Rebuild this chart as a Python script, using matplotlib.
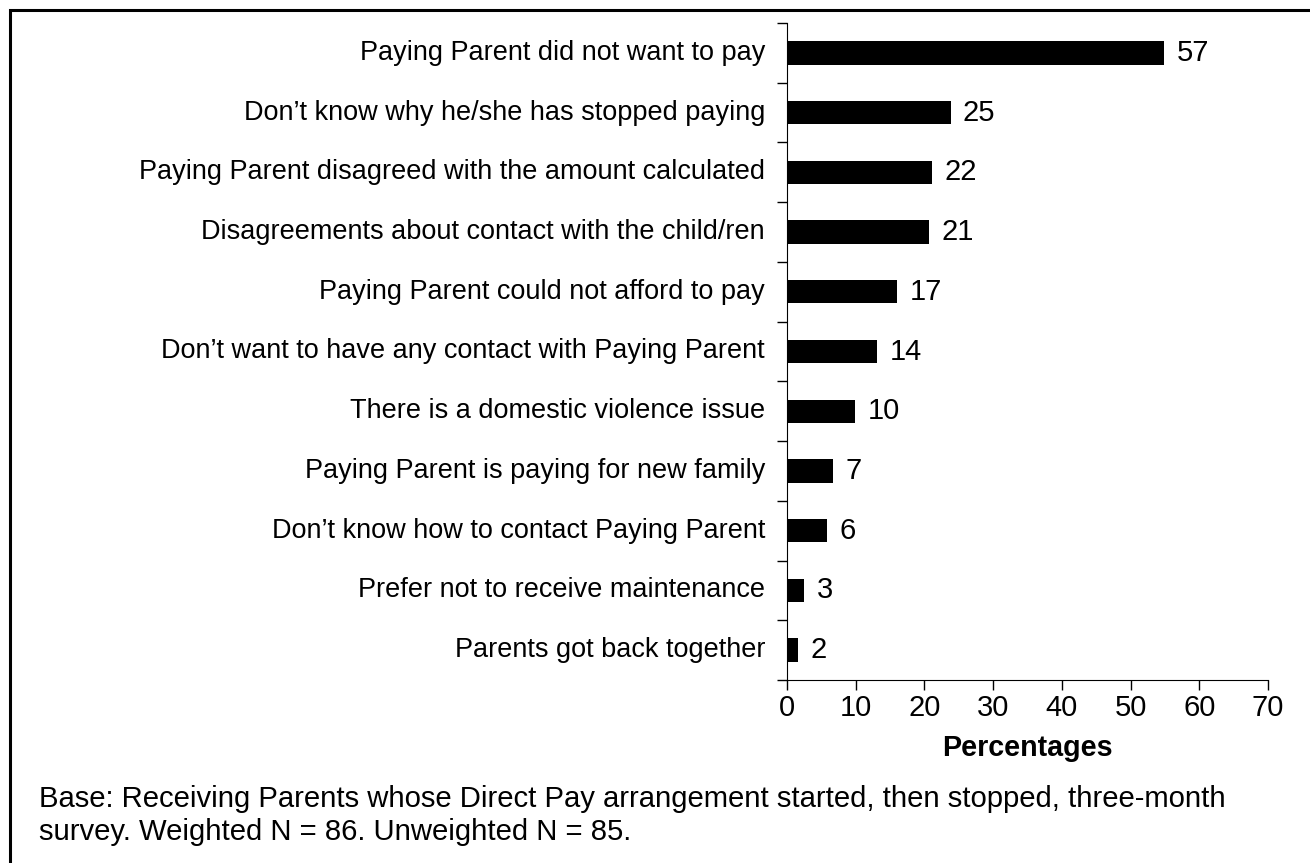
import matplotlib.pyplot as plt
from matplotlib.patches import Rectangle

plt.rcParams['font.family'] = ['Liberation Sans', 'DejaVu Sans']

reasons = ['Paying Parent did not want to pay',
           'Don\u2019t know why he/she has stopped paying',
           'Paying Parent disagreed with the amount calculated',
           'Disagreements about contact with the child/ren',
           'Paying Parent could not afford to pay',
           'Don\u2019t want to have any contact with Paying Parent',
           'There is a domestic violence issue',
           'Paying Parent is paying for new family',
           'Don\u2019t know how to contact Paying Parent',
           'Prefer not to receive maintenance',
           'Parents got back together']
# bar lengths as drawn, and the printed labels
bar_values = [54.9, 23.8, 21.1, 20.7, 16.0, 13.1, 9.9, 6.7, 5.8, 2.5, 1.6]
value_labels = ['57', '25', '22', '21', '17', '14', '10', '7', '6', '3', '2']
xticks = [0, 10, 20, 30, 40, 50, 60, 70]

W, H = 1310, 863
fig = plt.figure(figsize=(W / 100, H / 100), dpi=100)
ax = fig.add_axes([787 / W, 1 - 680 / H, 481 / W, 657 / H])

n = len(reasons)
ypos = list(range(n))[::-1]
ax.barh(ypos, bar_values, height=0.39, color='black')
for y, v, lab in zip(ypos, bar_values, value_labels):
	ax.text(v + 1.8, y, lab, va='center', ha='left', fontsize=21)

ax.set_xlim(0, 70)
ax.set_ylim(-0.5, n - 0.5)
ax.set_xticks(xticks)
ax.tick_params(axis='x', labelsize=21, length=7, width=1, pad=3)

# category labels between boundary ticks
ax.set_yticks([i - 0.5 for i in range(n + 1)])
ax.set_yticklabels([])
ax.tick_params(axis='y', length=7, width=1)
for y, r in zip(ypos, reasons):
	ax.text(-3.2, y, r, ha='right', va='center', fontsize=19.5)

ax.spines['top'].set_visible(False)
ax.spines['right'].set_visible(False)
ax.set_xlabel('Percentages', fontsize=20.6, fontweight='bold', labelpad=9)

fig.text(39 / W, 1 - 807 / H, 'Base: Receiving Parents whose Direct Pay arrangement started, then stopped, three-month',
         fontsize=21.1, va='baseline', ha='left')
fig.text(39 / W, 1 - 840 / H, 'survey. Weighted N = 86. Unweighted N = 85.',
         fontsize=21.1, va='baseline', ha='left')

fig.patches.append(Rectangle((10 / W, -0.05), 1.2, 1 - 10 / H + 0.05, transform=fig.transFigure,
                             fill=False, edgecolor='black', linewidth=2.2))

fig.savefig('out.png', dpi=100)
